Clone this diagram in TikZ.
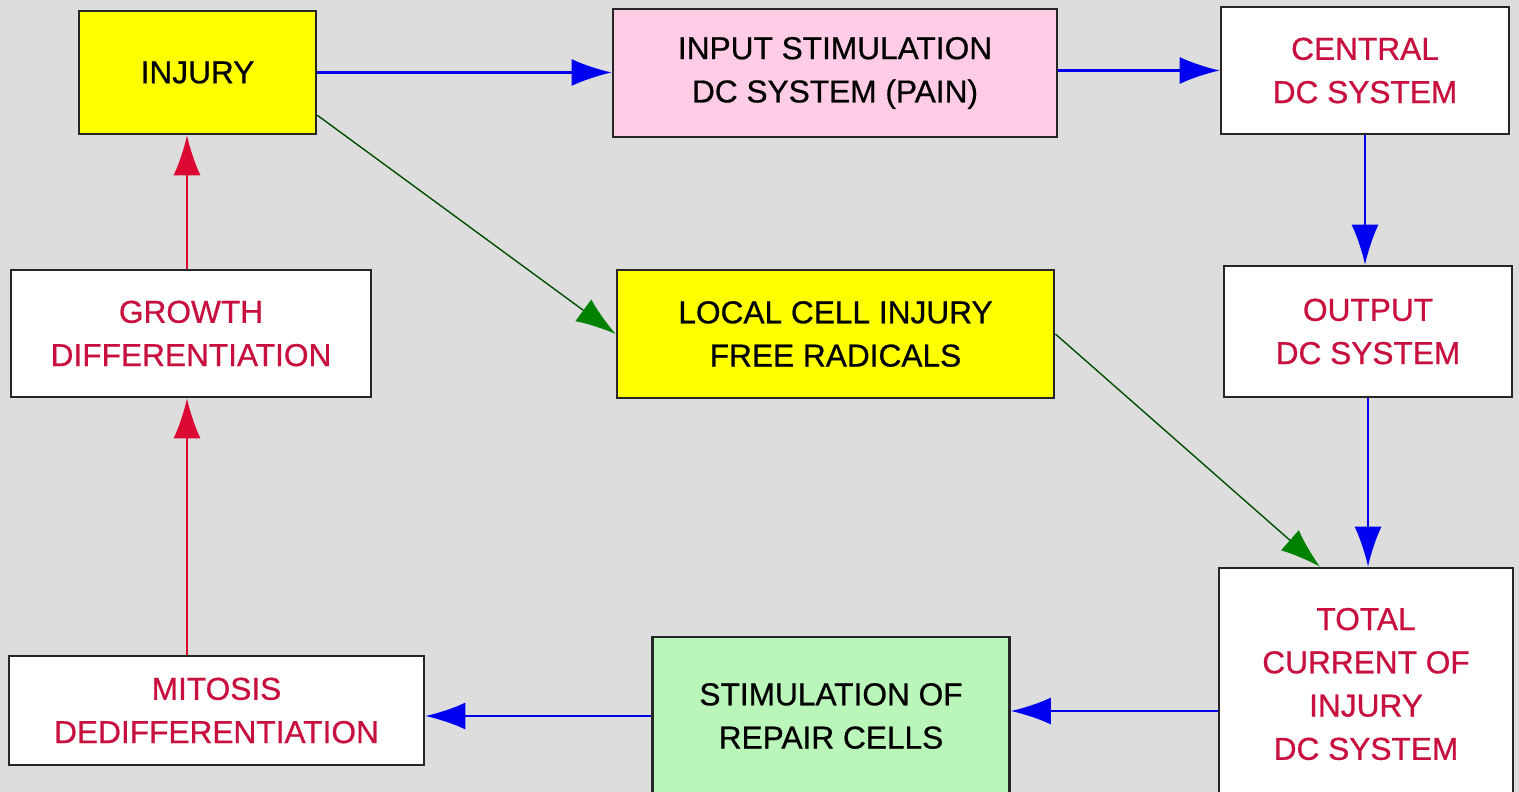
\documentclass[tikz,border=0pt]{standalone}
\usepackage{fontspec}
\setmainfont{Liberation Sans}
\newfontfamily\heavysans[FakeBold=0.7]{Liberation Sans}
\usetikzlibrary{arrows.meta}
\definecolor{bg}{RGB}{221,221,221}
\definecolor{crim}{RGB}{200,16,62}
\definecolor{pinkfill}{RGB}{255,204,230}
\definecolor{greenfill}{RGB}{186,245,186}
\definecolor{yel}{RGB}{255,255,0}
\definecolor{arrblue}{RGB}{0,0,240}
\definecolor{arrred}{RGB}{220,10,50}
\definecolor{arrgreen}{RGB}{0,130,0}
\tikzset{
  box/.style={draw=black!85, line width=0.7pt, rectangle, align=center, inner sep=0pt,
    font=\heavysans\fontsize{9}{12.3}\selectfont},
  redtext/.style={text=crim},
  conn/.style={line width=0.6pt, -{Latex[length=0.4cm,width=0.27cm]}},
  bluearr/.style={conn, draw=arrblue, fill=arrblue},
  redarr/.style={conn, draw=arrred, fill=arrred},
  greenarr/.style={line width=0.4pt, draw=arrgreen!60!black, -{Latex[length=0.4cm,width=0.27cm,fill=arrgreen,color=arrgreen]}},
}
\begin{document}
\begin{tikzpicture}[x=0.01cm,y=-0.01cm]
\useasboundingbox (0,0) rectangle (1519,792);
\clip (0,0) rectangle (1519,792);
\fill[bg] (0,0) rectangle (1519,792);

\node[box, fill=yel, minimum width=2.37cm, minimum height=1.23cm] (injury) at (197.5,72.5) {INJURY};
\node[box, fill=pinkfill, minimum width=4.44cm, minimum height=1.28cm] (input) at (835,73) {INPUT STIMULATION\\DC SYSTEM (PAIN)};
\node[box, fill=white, redtext, minimum width=2.88cm, minimum height=1.27cm] (central) at (1365,70.5) {CENTRAL\\DC SYSTEM};
\node[box, fill=white, redtext, minimum width=3.60cm, minimum height=1.27cm] (growth) at (191,333.5) {GROWTH\\DIFFERENTIATION};
\node[box, fill=yel, minimum width=4.37cm, minimum height=1.28cm] (local) at (835.5,334) {LOCAL CELL INJURY\\FREE RADICALS};
\node[box, fill=white, redtext, minimum width=2.88cm, minimum height=1.31cm] (output) at (1368,331.5) {OUTPUT\\DC SYSTEM};
\node[box, fill=white, redtext, minimum width=4.15cm, minimum height=1.09cm] (mitosis) at (216.5,710.5) {MITOSIS\\DEDIFFERENTIATION};
\node[box, fill=greenfill, minimum width=3.57cm, minimum height=1.58cm] (stim) at (831,716) {STIMULATION OF\\REPAIR CELLS};
\node[box, fill=white, redtext, minimum width=2.94cm, minimum height=2.32cm] (total) at (1366,684) {TOTAL\\CURRENT OF\\INJURY\\DC SYSTEM};

\draw[bluearr] (injury.east) -- (injury.east -| input.west);
\draw[bluearr] (input.east |- central.west) -- (central.west);
\draw[bluearr] (central.south) -- (central.south |- output.north);
\draw[bluearr] (output.south) -- (output.south |- total.north);
\draw[bluearr] ([yshift=-0.27cm]total.west) -- ([yshift=-0.27cm]total.west -| stim.east);
\draw[bluearr] (stim.west) -- (stim.west -| mitosis.east);
\draw[redarr] ([xshift=-0.04cm]growth.south |- mitosis.north) -- ([xshift=-0.04cm]growth.south);
\draw[redarr] ([xshift=-0.04cm]growth.north) -- ([xshift=-0.04cm]growth.north |- injury.south);
\draw[greenarr] ([yshift=0.2cm]injury.south east) -- (local.west);
\draw[greenarr] (local.east) -- ([xshift=-0.46cm]total.north);
\end{tikzpicture}
\end{document}
